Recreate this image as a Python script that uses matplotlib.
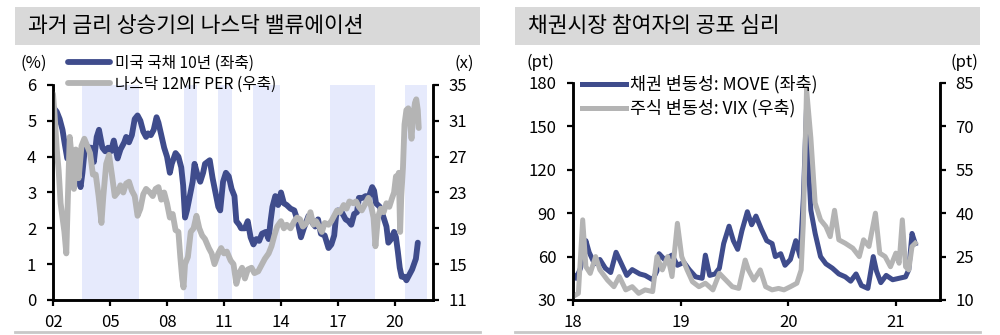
import matplotlib
matplotlib.use("Agg")
import matplotlib.pyplot as plt
from matplotlib.patches import Rectangle

plt.rcParams['font.family'] = ['Noto Sans CJK KR', 'DejaVu Sans']

# 미국 국채 10년 (%)
ust_x = [2002.05, 2002.2, 2002.35, 2002.5, 2002.62, 2002.75, 2002.85, 2002.95, 2003.1, 2003.25,
         2003.45, 2003.55, 2003.7, 2003.85, 2004.0, 2004.15, 2004.3, 2004.42, 2004.6, 2004.75,
         2004.9, 2005.05, 2005.2, 2005.4, 2005.55, 2005.75, 2005.85, 2006.0, 2006.15, 2006.3,
         2006.45, 2006.6, 2006.75, 2006.9, 2007.0, 2007.15, 2007.3, 2007.45, 2007.55, 2007.7,
         2007.85, 2008.0, 2008.15, 2008.25, 2008.45, 2008.6, 2008.75, 2008.85, 2008.95, 2009.05,
         2009.2, 2009.35, 2009.45, 2009.6, 2009.75, 2009.9, 2010.0, 2010.25, 2010.4, 2010.55,
         2010.7, 2010.8, 2010.95, 2011.1, 2011.25, 2011.4, 2011.55, 2011.65, 2011.8, 2011.9,
         2012.1, 2012.25, 2012.4, 2012.55, 2012.7, 2012.85, 2013.0, 2013.2, 2013.35, 2013.45,
         2013.55, 2013.7, 2013.85, 2014.0, 2014.15, 2014.3, 2014.5, 2014.7, 2014.85, 2015.05,
         2015.2, 2015.45, 2015.6, 2015.8, 2015.95, 2016.1, 2016.3, 2016.5, 2016.65, 2016.8,
         2016.9, 2017.0, 2017.2, 2017.4, 2017.55, 2017.7, 2017.85, 2018.0, 2018.1, 2018.3,
         2018.45, 2018.6, 2018.8, 2018.9, 2019.0, 2019.2, 2019.4, 2019.55, 2019.65, 2019.8,
         2019.95, 2020.05, 2020.15, 2020.25, 2020.35, 2020.5, 2020.6, 2020.75, 2020.9, 2021.0,
         2021.1, 2021.2]
ust_y = [5.35, 5.25, 5.05, 4.75, 4.35, 3.95, 4.05, 3.85, 4.0, 3.75,
         3.15, 3.55, 4.35, 4.25, 4.25, 3.85, 4.55, 4.75, 4.25, 4.15,
         4.25, 4.15, 4.45, 3.95, 4.2, 4.4, 4.55, 4.4, 4.6, 5.05,
         5.15, 5.0, 4.7, 4.55, 4.65, 4.6, 4.75, 5.1, 4.95, 4.6,
         4.25, 4.0, 3.55, 3.8, 4.1, 4.0, 3.7, 3.2, 2.3, 2.5,
         2.9, 3.3, 3.8, 3.5, 3.3, 3.55, 3.8, 3.9, 3.4, 3.0,
         2.6, 2.5, 3.3, 3.55, 3.45, 3.1, 2.9, 2.2, 2.1, 2.0,
         2.0, 2.2, 1.75, 1.55, 1.7, 1.65, 1.85, 1.9, 1.7, 2.2,
         2.6, 2.9, 2.65, 3.0, 2.7, 2.65, 2.55, 2.5, 2.25, 1.75,
         2.0, 2.35, 2.2, 2.05, 2.25, 1.85, 1.8, 1.45, 1.55, 1.8,
         2.35, 2.5, 2.45, 2.25, 2.2, 2.1, 2.4, 2.45, 2.85, 2.85,
         2.9, 2.85, 3.15, 3.05, 2.7, 2.6, 2.3, 2.05, 1.6, 1.7,
         1.9, 1.75, 1.35, 0.9, 0.65, 0.65, 0.55, 0.7, 0.85, 1.0,
         1.15, 1.6]

# 나스닥 12MF PER (x)
per_x = [2002.0, 2002.08, 2002.2, 2002.3, 2002.4, 2002.5, 2002.6, 2002.7, 2002.78, 2002.88,
         2003.0, 2003.1, 2003.2, 2003.35, 2003.5, 2003.65, 2003.8, 2003.95, 2004.1, 2004.25,
         2004.4, 2004.55, 2004.65, 2004.8, 2004.95, 2005.1, 2005.25, 2005.4, 2005.55, 2005.7,
         2005.85, 2006.0, 2006.15, 2006.3, 2006.45, 2006.6, 2006.75, 2006.9, 2007.1, 2007.25,
         2007.4, 2007.55, 2007.7, 2007.85, 2008.0, 2008.15, 2008.3, 2008.45, 2008.6, 2008.7,
         2008.8, 2008.87, 2008.95, 2009.1, 2009.25, 2009.4, 2009.55, 2009.7, 2009.85, 2010.0,
         2010.2, 2010.35, 2010.5, 2010.7, 2010.85, 2011.0, 2011.15, 2011.35, 2011.5, 2011.65,
         2011.8, 2011.95, 2012.1, 2012.25, 2012.45, 2012.6, 2012.8, 2012.95, 2013.15, 2013.35,
         2013.5, 2013.65, 2013.8, 2014.0, 2014.15, 2014.3, 2014.5, 2014.7, 2014.85, 2015.0,
         2015.15, 2015.35, 2015.55, 2015.7, 2015.85, 2016.0, 2016.15, 2016.3, 2016.5, 2016.65,
         2016.8, 2016.95, 2017.1, 2017.3, 2017.45, 2017.6, 2017.8, 2017.95, 2018.1, 2018.25,
         2018.45, 2018.6, 2018.75, 2018.87, 2018.97, 2019.1, 2019.25, 2019.4, 2019.55, 2019.7,
         2019.85, 2019.95, 2020.05, 2020.12, 2020.2, 2020.27, 2020.33, 2020.42, 2020.5, 2020.6,
         2020.7, 2020.8, 2020.87, 2020.95, 2021.05, 2021.12, 2021.2, 2021.25]
per_y = [34.0, 31.8, 27.8, 25.4, 21.8, 20.2, 18.6, 16.2, 22.2, 29.2,
         26.6, 23.4, 27.8, 24.6, 28.2, 29.0, 28.2, 27.4, 25.0, 25.0,
         22.6, 19.6, 22.6, 26.2, 27.2, 25.0, 22.6, 23.0, 23.8, 23.0,
         24.0, 24.2, 23.2, 22.6, 20.4, 21.2, 22.8, 23.4, 23.0, 22.6,
         23.4, 23.6, 22.2, 23.0, 21.8, 20.2, 20.6, 18.8, 18.6, 15.8,
         13.4, 12.4, 15.0, 15.8, 18.6, 19.0, 20.4, 19.0, 18.2, 17.8,
         16.8, 16.2, 15.0, 16.2, 16.8, 16.2, 16.4, 15.4, 15.0, 12.8,
         14.0, 14.6, 13.4, 14.4, 14.6, 14.0, 14.2, 14.8, 15.6, 16.2,
         17.0, 18.2, 19.2, 19.8, 19.0, 19.4, 19.0, 19.8, 20.2, 20.0,
         19.2, 19.6, 20.8, 19.4, 19.8, 19.2, 18.6, 19.6, 19.4, 19.8,
         20.4, 21.0, 20.8, 21.6, 21.2, 22.0, 21.8, 22.0, 21.4, 21.0,
         21.8, 22.4, 21.4, 20.2, 17.0, 20.2, 21.2, 20.8, 21.8, 21.4,
         22.4, 23.0, 24.8, 24.2, 25.2, 18.6, 22.6, 25.8, 30.6, 32.2,
         32.4, 30.6, 29.0, 31.4, 33.0, 33.4, 32.2, 30.2]

# 금리 상승기
hike_start = [2003.5, 2008.9, 2010.7, 2012.5, 2016.6, 2020.5]
hike_end = [2006.5, 2009.6, 2011.4, 2013.95, 2018.95, 2021.7]

# 채권 변동성 MOVE (pt)
move_x = [2018.0, 2018.03, 2018.07, 2018.1, 2018.12, 2018.15, 2018.2, 2018.25, 2018.3, 2018.35,
          2018.4, 2018.45, 2018.5, 2018.55, 2018.62, 2018.67, 2018.74, 2018.78, 2018.8, 2018.85,
          2018.92, 2018.97, 2019.03, 2019.08, 2019.14, 2019.2, 2019.23, 2019.27, 2019.32, 2019.36,
          2019.4, 2019.45, 2019.49, 2019.53, 2019.57, 2019.62, 2019.66, 2019.7, 2019.75, 2019.8,
          2019.85, 2019.88, 2019.93, 2019.97, 2020.02, 2020.07, 2020.11, 2020.14, 2020.17, 2020.19,
          2020.21, 2020.25, 2020.3, 2020.35, 2020.41, 2020.47, 2020.53, 2020.58, 2020.63, 2020.68,
          2020.74, 2020.79, 2020.82, 2020.86, 2020.91, 2020.97, 2021.03, 2021.09, 2021.12, 2021.15,
          2021.18]
move_y = [48, 45, 52, 66, 71, 63, 55, 58, 52, 49,
          63, 55, 47, 51, 48, 47, 44, 50, 62, 58,
          61, 54, 56, 51, 46, 45, 61, 47, 48, 52,
          69, 81, 71, 65, 78, 91, 82, 88, 79, 71,
          69, 60, 62, 54, 58, 71, 60, 100, 163, 120,
          92, 76, 60, 55, 52, 48, 46, 43, 48, 40,
          38, 60, 50, 42, 47, 44, 45, 46, 51, 76,
          69]

# 주식 변동성 VIX (pt)
vix_x = [2018.0, 2018.05, 2018.09, 2018.12, 2018.16, 2018.21, 2018.25, 2018.32, 2018.38, 2018.43,
         2018.49, 2018.55, 2018.61, 2018.67, 2018.74, 2018.78, 2018.83, 2018.88, 2018.92, 2018.97,
         2019.01, 2019.06, 2019.11, 2019.17, 2019.23, 2019.3, 2019.36, 2019.42, 2019.48, 2019.54,
         2019.6, 2019.63, 2019.68, 2019.74, 2019.79, 2019.85, 2019.91, 2019.96, 2020.02, 2020.08,
         2020.12, 2020.14, 2020.17, 2020.21, 2020.25, 2020.3, 2020.35, 2020.39, 2020.43, 2020.47,
         2020.53, 2020.6, 2020.66, 2020.7, 2020.75, 2020.81, 2020.85, 2020.9, 2020.95, 2021.0,
         2021.03, 2021.06, 2021.09, 2021.12, 2021.15, 2021.18]
vix_y = [11.2, 12.3, 37.7, 21.5, 19.2, 25.0, 20.4, 16.9, 14.6, 18.1,
         13.5, 14.6, 12.3, 13.5, 12.9, 25.0, 20.4, 25.0, 18.1, 36.5,
         25.0, 20.4, 16.3, 14.6, 15.8, 13.5, 19.2, 16.9, 14.6, 14.0,
         23.8, 20.4, 16.9, 20.4, 14.6, 13.5, 14.0, 13.5, 14.6, 15.8,
         20.4, 36.5, 83.0, 66.0, 43.5, 37.7, 35.4, 31.9, 41.0, 30.8,
         29.6, 27.9, 25.0, 30.8, 28.5, 40.0, 26.2, 25.0, 21.5, 26.2,
         22.7, 37.7, 21.5, 20.4, 28.5, 29.6]

left_years = [2002, 2005, 2008, 2011, 2014, 2017, 2020]
right_years = [2018, 2019, 2020, 2021]

NAVY = '#3f4c8c'
GREY = '#b4b4b4'
SHADE = '#e6eafc'
BAND = '#d9d9d9'

fig = plt.figure(figsize=(10, 3.35), dpi=100)


def style(ax, twin):
    ax.spines['top'].set_visible(False)
    twin.spines['top'].set_visible(False)
    for a in (ax, twin):
        for s in ['left', 'right', 'bottom']:
            a.spines[s].set_linewidth(1.8)
            a.spines[s].set_color('black')
        a.tick_params(direction='out', length=4, width=1.6, labelsize=12, colors='black')
    ax.tick_params(axis='y', pad=8)
    twin.tick_params(axis='y', pad=7)
    ax.tick_params(axis='x', pad=6)


# 제목 띠와 하단 선
for x0, title in [(0.015, '과거 금리 상승기의 나스닥 밸류에이션'), (0.515, '채권시장 참여자의 공포 심리')]:
    fig.patches.append(Rectangle((x0, 0.866), 0.465, 0.113, transform=fig.transFigure,
                                 facecolor=BAND, edgecolor='none'))
    fig.text(x0 + 0.013, 0.921, title, fontsize=15.5, fontweight='medium', va='center', ha='left')
    fig.add_artist(plt.Line2D([x0, x0 + 0.465], [0.009, 0.009], transform=fig.transFigure,
                              color='#c8c8c8', linewidth=2))

# 왼쪽: 국채 금리 vs 나스닥 PER
ax1 = fig.add_axes([0.053, 0.1045, 0.380, 0.6418])
ax1b = ax1.twinx()
for s, e in zip(hike_start, hike_end):
    ax1.axvspan(s, e, color=SHADE, linewidth=0, zorder=0)
l1, = ax1.plot(ust_x, ust_y, color=NAVY, linewidth=4.2, solid_capstyle='round', label='미국 국채 10년 (좌축)')
l2, = ax1b.plot(per_x, per_y, color=GREY, linewidth=4.2, solid_capstyle='round', label='나스닥 12MF PER (우축)')
ax1.set_xlim(2002, 2022)
ax1.set_ylim(0, 6)
ax1b.set_ylim(11, 35)
ax1.set_yticks(range(0, 7))
ax1b.set_yticks(range(11, 36, 4))
ax1.set_xticks(left_years)
ax1.set_xticklabels([f'{y % 100:02d}' for y in left_years])
style(ax1, ax1b)
ax1b.legend(handles=[l1, l2], loc='upper left', bbox_to_anchor=(0.039, 1.14), frameon=False,
            fontsize=11.3, borderaxespad=0, borderpad=0, handlelength=2.7, handletextpad=0.3,
            labelspacing=0.22)
fig.text(0.020, 0.812, '(%)', fontsize=12, va='center')
fig.text(0.454, 0.812, '(x)', fontsize=12, va='center')

# 오른쪽: MOVE vs VIX
ax2 = fig.add_axes([0.573, 0.1045, 0.367, 0.6478])
ax2b = ax2.twinx()
m1, = ax2.plot(move_x, move_y, color=NAVY, linewidth=3.6, label='채권 변동성: MOVE (좌축)')
m2, = ax2b.plot(vix_x, vix_y, color=GREY, linewidth=3.6, label='주식 변동성: VIX (우축)')
ax2.set_xlim(2018, 2021.41)
ax2.set_ylim(30, 180)
ax2b.set_ylim(10, 85)
ax2.set_yticks(range(30, 181, 30))
ax2b.set_yticks(range(10, 86, 15))
ax2.set_xticks(right_years)
ax2.set_xticklabels([f'{y % 100:02d}' for y in right_years])
style(ax2, ax2b)
ax2b.legend(handles=[m1, m2], loc='upper left', bbox_to_anchor=(0.025, 1.035), frameon=False,
            fontsize=12.5, borderaxespad=0, borderpad=0, handlelength=2.5, handletextpad=0.25,
            labelspacing=0.3)
fig.text(0.526, 0.815, '(pt)', fontsize=12, va='center')
fig.text(0.950, 0.815, '(pt)', fontsize=12, va='center')

fig.savefig('out.png', dpi=100)
